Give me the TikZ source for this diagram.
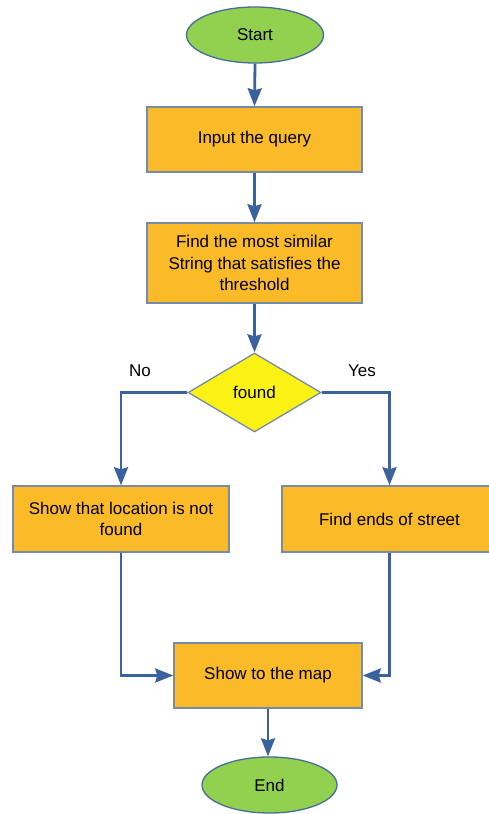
\documentclass[tikz,border=0pt]{standalone}
\usepackage{fontspec}
\setmainfont{Liberation Sans}
\usetikzlibrary{shapes.geometric,arrows.meta}
\definecolor{termgreen}{RGB}{146,208,80}
\definecolor{termedge}{RGB}{70,110,150}
\definecolor{boxorange}{RGB}{251,187,40}
\definecolor{boxedge}{RGB}{118,138,170}
\definecolor{decyellow}{RGB}{250,242,20}
\definecolor{flowblue}{RGB}{58,98,158}
\tikzset{
  term/.style={ellipse, draw=termedge, line width=1.3pt, fill=termgreen, minimum width=137pt, minimum height=56pt, inner sep=0pt, font=\fontsize{17}{21}\selectfont},
  procbox/.style={rectangle, draw=boxedge, line width=1.5pt, fill=boxorange, inner sep=0pt, align=center, font=\fontsize{17}{21.5}\selectfont},
  decision/.style={diamond, draw=boxedge, line width=1.3pt, fill=decyellow, minimum width=133pt, minimum height=79pt, inner sep=0pt, font=\fontsize{17}{21}\selectfont},
  lbl/.style={font=\fontsize{17}{21}\selectfont, inner sep=0pt},
  flow/.style={draw=flowblue, line width=2.8pt, -{Stealth[length=18pt,width=14pt,inset=2pt]}},
}
\begin{document}
\begin{tikzpicture}[x=1pt,y=-1pt]
\useasboundingbox (0,0) rectangle (488,814);
\node[term] (start) at (255,35) {Start};
\node[procbox, minimum width=215pt, minimum height=65pt] (input) at (254.5,139.5) {Input the query};
\node[procbox, minimum width=215pt, minimum height=80pt] (find) at (254.5,263) {Find the most similar\\String that satisfies the\\threshold};
\node[decision] (found) at (254.5,392.5) {found};
\node[lbl] (no) at (140,371) {No};
\node[lbl] (yes) at (362,371) {Yes};
\node[procbox, minimum width=216pt, minimum height=66pt] (notfound) at (121,519) {Show that location is not\\found};
\node[procbox, minimum width=215pt, minimum height=66pt] (ends) at (389.5,519) {Find ends of street};
\node[procbox, minimum width=188pt, minimum height=65pt] (show) at (268,675.5) {Show to the map};
\node[term, minimum width=135pt] (end) at (269.5,785) {End};
\draw[flow] (start.south) -- (input.north);
\draw[flow] (input.south) -- (find.north);
\draw[flow] (find.south) -- (found.north);
\draw[flow] (found.west) -| (notfound.north);
\draw[flow] (found.east) -| (ends.north);
\draw[flow] (notfound.south) |- (show.west);
\draw[flow] (ends.south) |- (show.east);
\draw[flow] (show.south) -- (show.south |- end.north);
\end{tikzpicture}
\end{document}
